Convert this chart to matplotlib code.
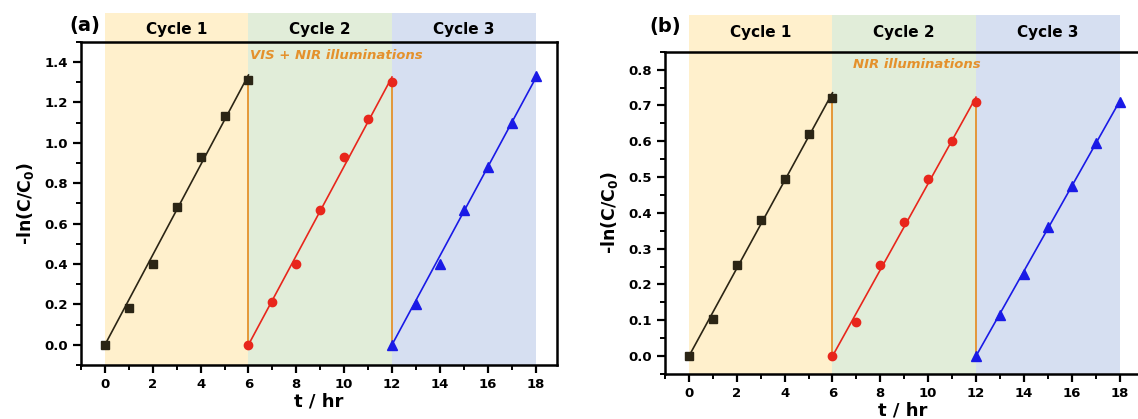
import numpy as np
import matplotlib
matplotlib.use("Agg")
import matplotlib.pyplot as plt
from matplotlib.ticker import MultipleLocator

plt.rcParams['font.family'] = ['DejaVu Sans']
plt.rcParams['font.weight'] = 'bold'
plt.rcParams['mathtext.default'] = 'bf'

# time points for each cycle
t_cycle1 = [0, 1, 2, 3, 4, 5, 6]
t_cycle2 = [6, 7, 8, 9, 10, 11, 12]
t_cycle3 = [12, 13, 14, 15, 16, 17, 18]

# panel (a): VIS + NIR
a_cycle1 = [0.0, 0.18, 0.40, 0.68, 0.93, 1.13, 1.31]
a_cycle2 = [0.0, 0.21, 0.40, 0.665, 0.93, 1.115, 1.30]
a_cycle3 = [0.0, 0.20, 0.40, 0.665, 0.88, 1.10, 1.33]

# panel (b): NIR only
b_cycle1 = [0.0, 0.105, 0.255, 0.38, 0.495, 0.62, 0.72]
b_cycle2 = [0.0, 0.095, 0.255, 0.375, 0.495, 0.60, 0.71]
b_cycle3 = [0.0, 0.115, 0.23, 0.36, 0.475, 0.595, 0.71]

cycle_names = ['Cycle 1', 'Cycle 2', 'Cycle 3']
cycle_spans = [(0, 6), (6, 12), (12, 18)]
shade_colors = ['#FFF0CC', '#E1EDD9', '#D6DFF1']
series_colors = ['#2B2515', '#E8261C', '#1A1AE6']
series_markers = ['s', 'o', '^']
orange = '#E4912C'

fig = plt.figure(figsize=(11.38, 4.19), dpi=100)


def draw_panel(ax, ys, ylim, ymajor, yminor, shade_top, label_y, note, note_xy):
    ts = [t_cycle1, t_cycle2, t_cycle3]
    for (x0, x1), c in zip(cycle_spans, shade_colors):
        ax.fill_between([x0, x1], ylim[0], shade_top, color=c, lw=0,
                        clip_on=False, zorder=0)
    for name, (x0, x1) in zip(cycle_names, cycle_spans):
        ax.text((x0 + x1) / 2, label_y, name, ha='center', va='center',
                fontsize=11, fontweight='bold', clip_on=False)

    # orange drops at the end of cycles 1 and 2
    ax.plot([6, 6], [0, ys[0][-1]], color=orange, lw=1.3, zorder=2)
    ax.plot([12, 12], [0, ys[1][-1]], color=orange, lw=1.3, zorder=2)

    for t, y, c, m in zip(ts, ys, series_colors, series_markers):
        t = np.array(t, dtype=float)
        y = np.array(y)
        tt = t - t[0]
        k = np.sum(tt * y) / np.sum(tt * tt)
        ax.plot([t[0], t[-1]], [0, k * tt[-1]], color=c, lw=1.2, zorder=3)
        ax.plot(t, y, ls='none', marker=m, color=c,
                ms=6.5 if m == '^' else 6, zorder=4)

    ax.set_xlim(-1, 18.9)
    ax.set_ylim(*ylim)
    ax.xaxis.set_major_locator(MultipleLocator(2))
    ax.xaxis.set_minor_locator(MultipleLocator(1))
    ax.yaxis.set_major_locator(MultipleLocator(ymajor))
    ax.yaxis.set_minor_locator(MultipleLocator(yminor))
    ax.tick_params(which='major', direction='out', length=6, width=1.6,
                   labelsize=9.5)
    ax.tick_params(which='minor', direction='out', length=3.5, width=1.4)
    for s in ax.spines.values():
        s.set_linewidth(1.8)
        s.set_zorder(5)
    for lab in ax.get_xticklabels() + ax.get_yticklabels():
        lab.set_fontweight('bold')
    ax.set_xlabel('t / hr', fontsize=13, fontweight='bold', labelpad=1)
    ax.set_ylabel('-ln(C/C$_0$)', fontsize=12.5, fontweight='bold', labelpad=6)
    ax.text(note_xy[0], note_xy[1], note, color=orange, fontsize=9.5,
            fontweight='bold', style='italic', ha='left', va='center')


ax_a = fig.add_axes([0.0712, 0.1289, 0.4183, 0.7716])
draw_panel(ax_a, [a_cycle1, a_cycle2, a_cycle3], (-0.1, 1.5), 0.2, 0.1,
           1.643, 1.56, 'VIS + NIR illuminations', (6.08, 1.43))

ax_b = fig.add_axes([0.5844, 0.1074, 0.4183, 0.769])
draw_panel(ax_b, [b_cycle1, b_cycle2, b_cycle3], (-0.05, 0.85), 0.1, 0.05,
           0.954, 0.903, 'NIR illuminations', (6.85, 0.814))

# panel tags
fig.text(85 / 1138, 1 - 25 / 419, '(a)', fontsize=14, fontweight='bold',
         ha='center', va='center')
fig.text(665 / 1138, 1 - 26.7 / 419, '(b)', fontsize=14, fontweight='bold',
         ha='center', va='center')

fig.savefig('out.png', dpi=100)
